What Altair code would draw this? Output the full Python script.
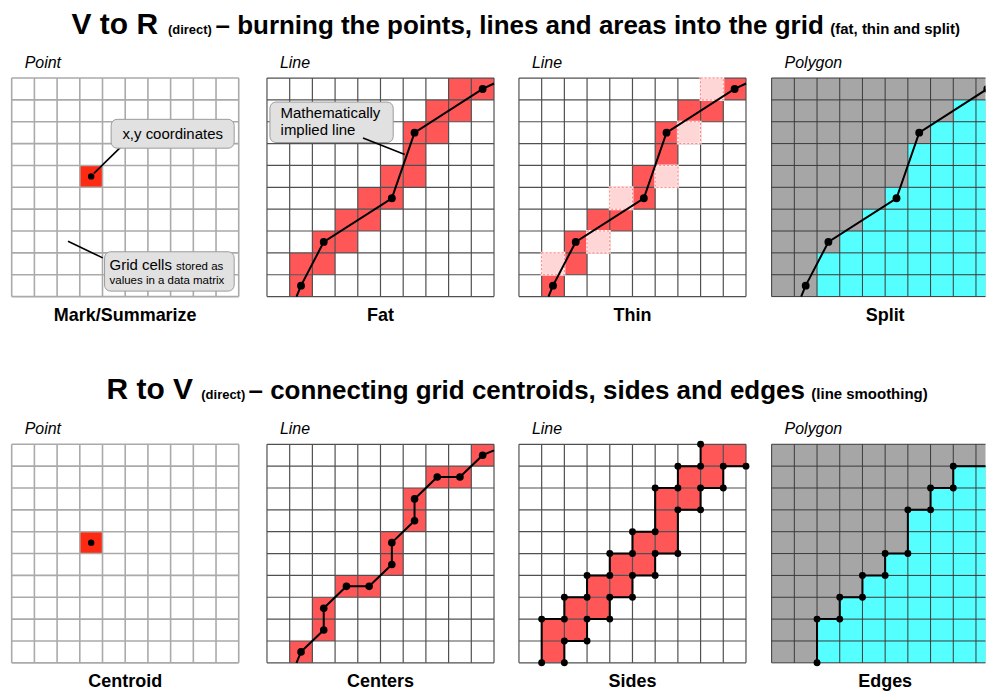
import altair as alt
import pandas as pd

FONT = "Liberation Sans"

# ---------------- data (grid-cell units: column 0 = left, row 0 = bottom) ----------------
GRID_TICKS = list(range(11))

POINT_COL = [3]
POINT_ROW = [5]

# vector line that is burnt into the grid (V to R)
VR_LINE_X = [1.3, 1.5, 2.5, 5.5, 6.5, 9.5, 10.0]
VR_LINE_Y = [0.0, 0.5, 2.5, 4.5, 7.5, 9.5, 9.75]
VR_VERTEX_X = [1.5, 2.5, 5.5, 6.5, 9.5]
VR_VERTEX_Y = [0.5, 2.5, 4.5, 7.5, 9.5]

# cells per row (row 0 = bottom)
FAT_COLS = [[1], [1, 2], [2, 3], [3, 4], [4, 5], [5, 6], [6], [6, 7], [7, 8], [8, 9]]
THIN_COLS = [[1], [2], [2], [3, 4], [5], [5], [6], [6], [7, 8], [9]]
THIN_LIGHT_COLS = [[], [1], [3], [], [4], [6], [], [7], [], [8]]
SPLIT_FIRST_COL = [2, 2, 3, 4, 5, 6, 6, 7, 8, 10]

# R to V
CENTER_COLS = [1, 2, 2, 3, 4, 5, 5, 6, 6, 7, 8, 9]
CENTER_ROWS = [0, 1, 2, 3, 3, 4, 5, 6, 7, 8, 8, 9]
CENTER_START = (1.3, 0.0)
CENTER_END = (10.0, 9.72)
SIDES_UPPER_X = [1, 1, 2, 2, 3, 3, 4, 4, 5, 5, 6, 6, 7, 7, 8, 8]
SIDES_UPPER_Y = [0, 2, 2, 3, 3, 4, 4, 5, 5, 6, 6, 8, 8, 9, 9, 10]
SIDES_LOWER_X = [2, 2, 3, 3, 4, 4, 5, 5, 6, 6, 7, 7, 8, 8, 9, 9, 10]
SIDES_LOWER_Y = [0, 1, 1, 2, 2, 3, 3, 4, 4, 5, 5, 7, 7, 8, 8, 9, 9]
EDGE_X = [2, 2, 3, 3, 4, 4, 5, 5, 6, 6, 7, 7, 8, 8, 10]
EDGE_Y = [0, 2, 2, 3, 3, 4, 4, 5, 5, 7, 7, 8, 8, 9, 9]

PANEL_KIND = ["Point", "Line", "Line", "Polygon"]
TOP_LABELS = ["Mark/Summarize", "Fat", "Thin", "Split"]
BOTTOM_LABELS = ["Centroid", "Centers", "Sides", "Edges"]

# ---------------- layout ----------------
CW, CH = 22.75, 21.9
XB = [8.0, 253.2, 507.0, 759.5, 986.0]        # panel boundaries (page px)
GX = [11.7, 266.7, 519.0, 771.7]             # grid left edges (page px)
ROW_TOP = [76.6, 442.5]                      # grid top edges (page px)
YDOM = [(-1.5, 11.3), (-1.32, 11.3)]

RED_POINT = "#ff2a12"
RED = "#ff5757"
LIGHT = "#ffd6d6"
CYAN = "#55ffff"
GRAY = "#a6a6a6"


def cells_df(cols_by_row):
    recs = []
    for r, cols in enumerate(cols_by_row):
        for c in cols:
            recs.append({"x": c, "x2": c + 1, "y": r, "y2": r + 1})
    return pd.DataFrame(recs, columns=["x", "x2", "y", "y2"])


class P:
    def __init__(self, col, row):
        x0 = (XB[col] - GX[col]) / CW
        x1 = (XB[col + 1] - GX[col]) / CW
        y0, y1 = YDOM[row]
        self.clip = x1 < 10.05
        self.w = XB[col + 1] - XB[col]
        self.h = (y1 - y0) * CH
        self.xs = alt.Scale(domain=[x0, x1], nice=False, zero=False)
        self.ys = alt.Scale(domain=[y0, y1], nice=False, zero=False)

    def X(self, f="x"):
        return alt.X(f, type="quantitative", scale=self.xs, axis=None)

    def Y(self, f="y"):
        return alt.Y(f, type="quantitative", scale=self.ys, axis=None)

    def rects(self, df, **kw):
        return alt.Chart(df).mark_rect(clip=self.clip, **kw).encode(
            x=self.X(), x2=alt.X2("x2"), y=self.Y(), y2=alt.Y2("y2"))

    def grid(self, color, width):
        v = pd.DataFrame({"x": GRID_TICKS, "y": [0] * 11, "y2": [10] * 11})
        h = pd.DataFrame({"y": GRID_TICKS, "x": [0] * 11, "x2": [10] * 11})
        lv = alt.Chart(v).mark_rule(color=color, strokeWidth=width, clip=self.clip).encode(
            x=self.X(), y=self.Y(), y2=alt.Y2("y2"))
        lh = alt.Chart(h).mark_rule(color=color, strokeWidth=width, clip=self.clip).encode(
            y=self.Y(), x=self.X(), x2=alt.X2("x2"))
        return [lv, lh]

    def line(self, xs, ys, seg=None, width=2):
        df = pd.DataFrame({"x": xs, "y": ys, "i": list(range(len(xs))),
                           "s": seg if seg is not None else [0] * len(xs)})
        return alt.Chart(df).mark_line(color="black", strokeWidth=width, clip=self.clip).encode(
            x=self.X(), y=self.Y(), order=alt.Order("i:Q"), detail="s:N")

    def dots(self, xs, ys, size=60):
        df = pd.DataFrame({"x": xs, "y": ys})
        return alt.Chart(df).mark_circle(color="black", opacity=1, size=size,
                                         clip=self.clip).encode(
            x=self.X(), y=self.Y())

    def text(self, x, y, t, **kw):
        df = pd.DataFrame({"x": [x], "y": [y], "t": [t]})
        return alt.Chart(df).mark_text(font=FONT, color="black", **kw).encode(
            x=self.X(), y=self.Y(), text="t:N")

    def leader(self, x, y, x2, y2):
        df = pd.DataFrame({"x": [x], "y": [y], "x2": [x2], "y2": [y2]})
        return alt.Chart(df).mark_rule(color="black", strokeWidth=1.6).encode(
            x=self.X(), y=self.Y(), x2=alt.X2("x2"), y2=alt.Y2("y2"))

    def box(self, x, x2, y, y2):
        df = pd.DataFrame({"x": [x], "x2": [x2], "y": [y], "y2": [y2]})
        return self.rects(df, fill="#e1e1e1", stroke="#9c9c9c", strokeWidth=1,
                          cornerRadius=6)

    def labels(self, kind, label):
        return [
            self.text(0.57, 10.45, kind, align="left", baseline="alphabetic",
                      fontSize=16, fontStyle="italic"),
            self.text(5.0, -1.12, label, align="center", baseline="alphabetic",
                      fontSize=18, fontWeight="bold"),
        ]

    def done(self, layers):
        return alt.layer(*layers).properties(width=self.w, height=self.h)


# ---------------- top row: V to R ----------------
p = P(0, 0)
pt = cells_df([[] if r != POINT_ROW[0] else POINT_COL for r in range(10)])
top1 = p.done([
    p.rects(pt, fill=RED_POINT),
    *p.grid("#aaaaaa", 1.6),
    p.leader(4.97, 7.01, 3.62, 5.64),
    p.leader(2.48, 2.53, 4.01, 1.77),
    p.box(4.38, 9.8, 6.79, 8.11),
    p.box(4.09, 9.8, 0.25, 2.05),
    p.text(7.09, 7.45, "x,y coordinates", align="center", baseline="middle", fontSize=15),
    p.text(4.31, 1.2, "Grid cells", align="left", baseline="alphabetic", fontSize=15),
    p.text(7.24, 1.2, "stored as", align="left", baseline="alphabetic", fontSize=11.5),
    p.text(4.31, 0.56, "values in a data matrix", align="left", baseline="alphabetic", fontSize=11.5),
    p.dots([POINT_COL[0] + 0.5], [POINT_ROW[0] + 0.5], size=42),
    *p.labels(PANEL_KIND[0], TOP_LABELS[0]),
])

p = P(1, 0)
top2 = p.done([
    p.rects(cells_df(FAT_COLS), fill=RED),
    *p.grid("#505050", 1.2),
    p.box(0.13, 5.56, 7.05, 8.90),
    p.text(0.60, 8.17, "Mathematically", align="left", baseline="alphabetic", fontSize=15),
    p.text(0.60, 7.41, "implied line", align="left", baseline="alphabetic", fontSize=15),
    p.leader(4.23, 7.26, 6.07, 6.50),
    p.line(VR_LINE_X, VR_LINE_Y),
    p.dots(VR_VERTEX_X, VR_VERTEX_Y, size=62),
    *p.labels(PANEL_KIND[1], TOP_LABELS[1]),
])

p = P(2, 0)
light = cells_df(THIN_LIGHT_COLS)
top3 = p.done([
    p.rects(cells_df(THIN_COLS), fill=RED),
    *p.grid("#505050", 1.2),
    p.rects(light, fill=LIGHT, stroke="#ffe9e9", strokeWidth=2),
    p.rects(light, fill=LIGHT, fillOpacity=0, stroke="#ff7a7a", strokeWidth=1,
            strokeDash=[2, 2]),
    p.line(VR_LINE_X, VR_LINE_Y),
    p.dots(VR_VERTEX_X, VR_VERTEX_Y, size=62),
    *p.labels(PANEL_KIND[2], TOP_LABELS[2]),
])

p = P(3, 0)
split = pd.DataFrame({"x": SPLIT_FIRST_COL, "x2": [10] * 10,
                      "y": list(range(10)), "y2": list(range(1, 11))})
full = pd.DataFrame({"x": [0], "x2": [10], "y": [0], "y2": [10]})
top4 = p.done([
    p.rects(full, fill=GRAY),
    p.rects(split, fill=CYAN),
    *p.grid("#3a3a3a", 1.0),
    p.line(VR_LINE_X, VR_LINE_Y),
    p.dots(VR_VERTEX_X, VR_VERTEX_Y, size=62),
    *p.labels(PANEL_KIND[3], TOP_LABELS[3]),
])

# ---------------- bottom row: R to V ----------------
p = P(0, 1)
bot1 = p.done([
    p.rects(pt, fill=RED_POINT),
    *p.grid("#aaaaaa", 1.6),
    p.dots([POINT_COL[0] + 0.5], [POINT_ROW[0] + 0.5], size=42),
    *p.labels(PANEL_KIND[0], BOTTOM_LABELS[0]),
])

p = P(1, 1)
cx = [c + 0.5 for c in CENTER_COLS]
cy = [r + 0.5 for r in CENTER_ROWS]
bot2 = p.done([
    p.rects(cells_df(THIN_COLS), fill=RED),
    *p.grid("#505050", 1.2),
    p.line([CENTER_START[0]] + cx + [CENTER_END[0]], [CENTER_START[1]] + cy + [CENTER_END[1]]),
    p.dots(cx, cy, size=58),
    *p.labels(PANEL_KIND[1], BOTTOM_LABELS[1]),
])

p = P(2, 1)
bot3 = p.done([
    p.rects(cells_df(FAT_COLS), fill=RED),
    *p.grid("#505050", 1.2),
    p.line(SIDES_UPPER_X + SIDES_LOWER_X, SIDES_UPPER_Y + SIDES_LOWER_Y,
           seg=[0] * len(SIDES_UPPER_X) + [1] * len(SIDES_LOWER_X)),
    p.dots(SIDES_UPPER_X + SIDES_LOWER_X, SIDES_UPPER_Y + SIDES_LOWER_Y, size=48),
    *p.labels(PANEL_KIND[2], BOTTOM_LABELS[2]),
])

p = P(3, 1)
bot4 = p.done([
    p.rects(full, fill=GRAY),
    p.rects(split, fill=CYAN),
    *p.grid("#3a3a3a", 1.0),
    p.line(EDGE_X, EDGE_Y),
    p.dots(EDGE_X[:-1], EDGE_Y[:-1], size=48),
    *p.labels(PANEL_KIND[3], BOTTOM_LABELS[3]),
])

# ---------------- titles ----------------
TOTAL_W = XB[-1] - XB[0]
ROW1_TOP = ROW_TOP[0] - (YDOM[0][1] - 10) * CH
ROW1_BOT = ROW_TOP[0] + (10 - YDOM[0][0]) * CH
ROW2_TOP = ROW_TOP[1] - (YDOM[1][1] - 10) * CH

TITLE1 = [("V to R", 71.7, 30), ("(direct)", 168.3, 13),
          ("\u2013 burning the points, lines and areas into the grid", 216.0, 26),
          ("(fat, thin and split)", 832.0, 15)]
TITLE2 = [("R to V", 106.7, 30), ("(direct)", 201.7, 13),
          ("\u2013 connecting grid centroids, sides and edges", 249.0, 26),
          ("(line smoothing)", 813.0, 15)]


def title_chart(pieces, baseline_abs, top_abs, height):
    one = pd.DataFrame({"k": [0]})
    layers = []
    for t, xpx, fs in pieces:
        layers.append(alt.Chart(one).mark_text(
            font=FONT, fontWeight="bold", fontSize=fs, align="left",
            baseline="alphabetic", color="black").encode(
            x=alt.value(xpx - XB[0]), y=alt.value(baseline_abs - top_abs),
            text=alt.value(t)))
    return alt.layer(*layers).properties(width=TOTAL_W, height=height)


t1 = title_chart(TITLE1, 33.6, 8.0, ROW1_TOP - 8.0)
t2 = title_chart(TITLE2, 397.5, ROW1_BOT, ROW2_TOP - ROW1_BOT)

row1 = alt.hconcat(top1, top2, top3, top4, spacing=0)
row2 = alt.hconcat(bot1, bot2, bot3, bot4, spacing=0)

chart = alt.vconcat(t1, row1, t2, row2, spacing=0).properties(
    padding=0, background="white"
).configure_view(strokeWidth=0).configure_concat(spacing=0)

chart.save("out.html", embed_options={"renderer": "svg", "actions": False})
